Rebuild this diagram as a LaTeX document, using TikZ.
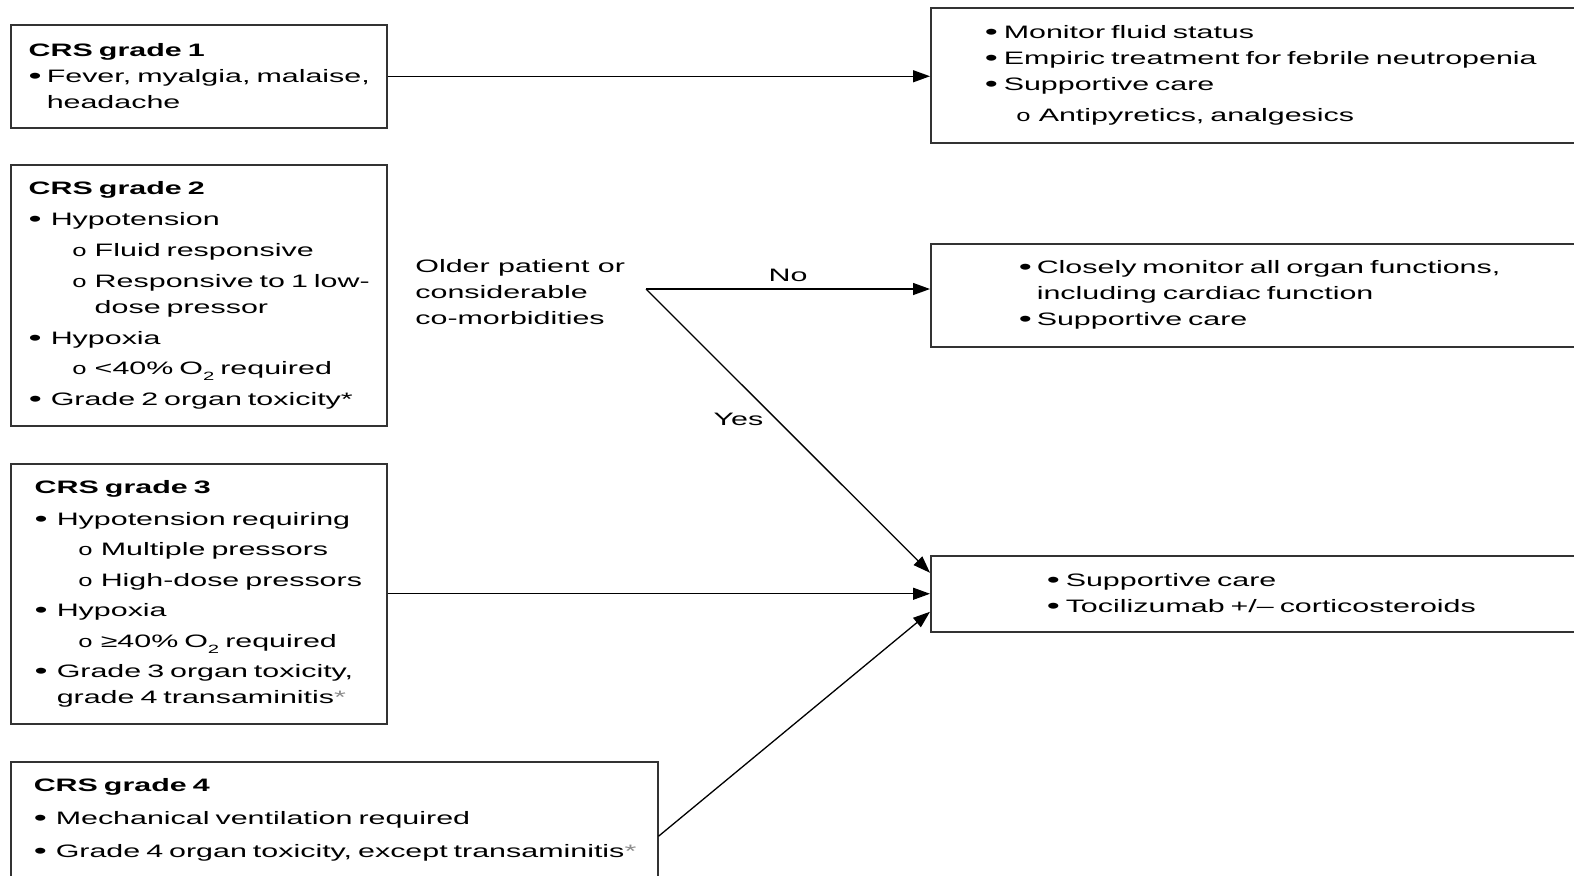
\documentclass[tikz,border=0pt]{standalone}
\usepackage{fontspec}
\setmainfont{Liberation Sans}[FakeStretch=1.69]
\newfontfamily\subfont{Liberation Mono}[FakeStretch=1.5]
\usetikzlibrary{arrows.meta,calc}

\newcommand{\bul}[1][11pt]{\makebox[#1][l]{\raisebox{-0.4pt}{\fontsize{11}{11}\selectfont\textbullet}}}
\newcommand{\subb}[1][21.5pt]{\hspace*{#1}\makebox[11.5pt][l]{\fontsize{8.5}{8.5}\subfont o}}
\newcommand{\gap}[1]{\hspace*{#1}}
\newcommand{\Otwo}{O\raisebox{-3pt}{\fontsize{6}{6}\selectfont 2}}
\newcommand{\graystar}{{\color{black!45}*}}

\tikzset{
  crsbox/.style={draw=black!80, line width=0.75pt, anchor=north west,
    inner xsep=0pt, inner ysep=0pt, align=left,
    font=\fontsize{9}{13}\selectfont},
  lpad/.style={execute at begin node={\leftskip=#1}},
  flow/.style={line width=0.65pt, -{Triangle[length=8.5pt,width=6pt]}}
}

\begin{document}
\begin{tikzpicture}[x=0.5pt,y=-0.5pt]
  \useasboundingbox (0,0) rectangle (1574,875);
  \clip (0,0) rectangle (1574,875);

  % CRS grades
  \node[crsbox, lpad=9pt, minimum width=188pt, text width=188pt, minimum height=51.5pt] (g1) at (10,24) {%
    \textbf{CRS grade 1}\\
    \bul[9pt]Fever, myalgia, malaise,\\
    \gap{9pt}headache};
  \node[crsbox, lpad=9pt, minimum width=188pt, text width=188pt, minimum height=130.5pt] (g2) at (10,164) {%
    \textbf{CRS grade 2}\\[2.5pt]
    \bul Hypotension\\[2.5pt]
    \subb Fluid responsive\\[2.5pt]
    \subb Responsive to 1 low-\\
    \gap{33pt}dose pressor\\[2.5pt]
    \bul Hypoxia\\[2pt]
    \subb <40\% \Otwo{} required\\[2.5pt]
    \bul Grade 2 organ toxicity*};
  \node[crsbox, lpad=12pt, minimum width=188pt, text width=188pt, minimum height=130pt] (g3) at (10,463) {%
    \textbf{CRS grade 3}\\[3pt]
    \bul Hypotension requiring\\[2pt]
    \subb Multiple pressors\\[2.5pt]
    \subb High-dose pressors\\[2pt]
    \bul Hypoxia\\[2.5pt]
    \subb ≥40\% \Otwo{} required\\[2pt]
    \bul Grade 3 organ toxicity,\\
    \gap{11pt}grade 4 transaminitis\graystar};
  \node[crsbox, lpad=11.5pt, minimum width=323.5pt, text width=323.5pt, minimum height=58.5pt] (g4) at (10,761) {%
    \textbf{CRS grade 4}\\[3.5pt]
    \bul Mechanical ventilation required\\[3.5pt]
    \bul Grade 4 organ toxicity, except transaminitis\graystar};

  % Management
  \node[crsbox, lpad=27pt, minimum width=350pt, text width=350pt, minimum height=67.5pt] (mA) at (930,7) {%
    \bul[9.5pt]Monitor fluid status\\
    \bul[9.5pt]Empiric treatment for febrile neutropenia\\
    \bul[9.5pt]Supportive care\\[2.5pt]
    \subb[15.5pt]Antipyretics, analgesics};
  \node[crsbox, lpad=44pt, minimum width=350pt, text width=350pt, minimum height=51.5pt] (mB) at (930,243) {%
    \bul[9pt]Closely monitor all organ functions,\\
    \gap{9pt}including cardiac function\\
    \bul[9pt]Supportive care};
  \node[crsbox, lpad=58pt, minimum width=350pt, text width=350pt, minimum height=38pt] (mC) at (930,555) {%
    \bul[9.5pt]Supportive care\\
    \bul[9.5pt]Tocilizumab +/– corticosteroids};

  % Decision
  \node[anchor=west, align=left, inner sep=0pt, font=\fontsize{9}{13}\selectfont] (older) at (415,292) {%
    Older patient or\\considerable\\co-morbidities};
  \coordinate (fork) at (646,289);

  % Connectors
  \draw[flow] (g1.east) -- (g1.east -| mA.west);
  \draw[flow] (fork) -- node[above, font=\fontsize{9}{13}\selectfont] (no) {No} (fork -| mB.west);
  \draw[flow] (fork) -- node[pos=0.46, left=3pt, font=\fontsize{9}{13}\selectfont] (yes) {Yes} ($(mC.west)+(0,-21)$);
  \draw[flow] (g3.east) -- (mC.west);
  \draw[flow] ($(g4.east)+(0,16)$) -- ($(mC.west)+(0,18)$);
\end{tikzpicture}
\end{document}
